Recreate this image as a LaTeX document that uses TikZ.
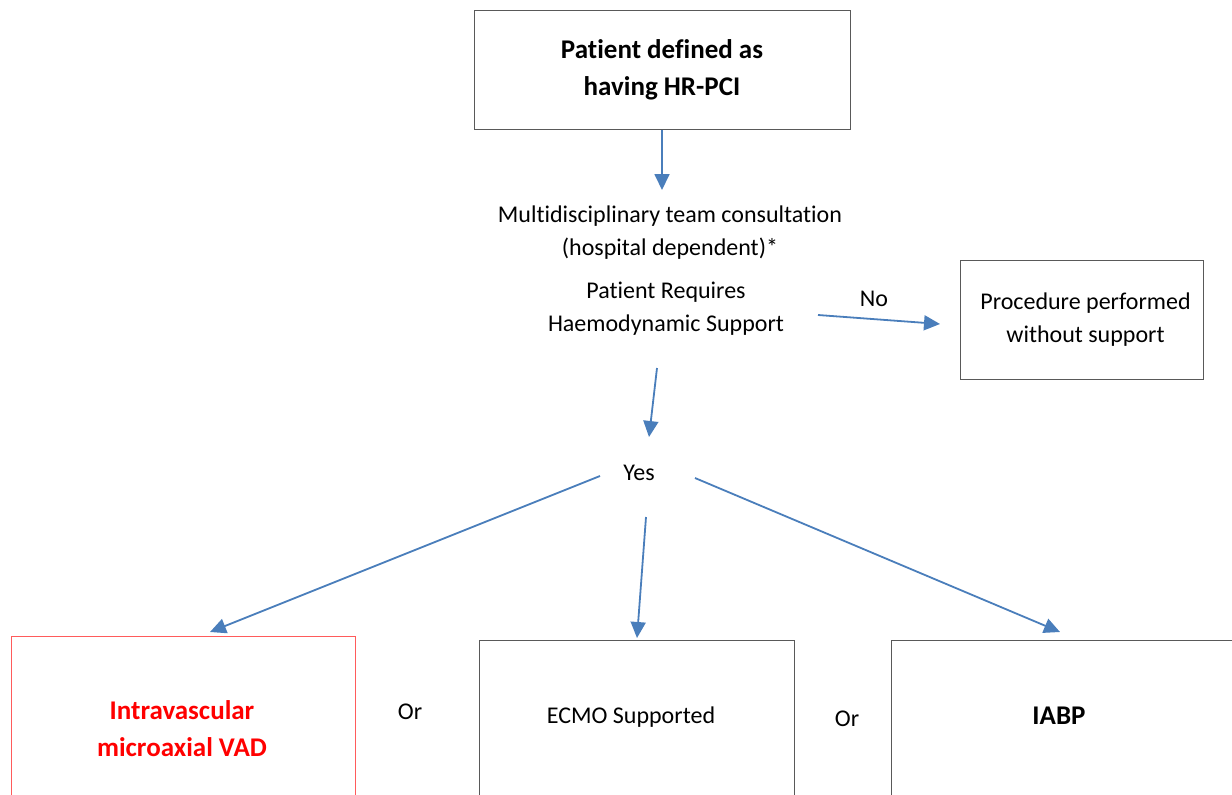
\documentclass[tikz,border=0pt]{standalone}
\usepackage{fontspec}
\setmainfont[Ligatures=NoCommon]{Carlito}
\usetikzlibrary{arrows.meta}
\definecolor{arrowblue}{HTML}{4A7EBB}
\definecolor{boxgray}{HTML}{595959}
\definecolor{vadred}{HTML}{FF5B5B}

\begin{document}
\begin{tikzpicture}[x=1pt,y=-1pt,
  box/.style={draw=boxgray, line width=1pt, inner sep=0pt},
  txt/.style={align=center, font=\fontsize{24}{33}\selectfont},
  bold/.style={align=center, font=\fontsize{27}{37}\selectfont\bfseries},
  link/.style={draw=arrowblue, line width=1.8pt, -{Triangle[length=16pt,width=15pt]}}]

\clip (0,0) rectangle (1232,795);

% Top

\node [box, bold, minimum width=376, minimum height=119] (hrpci) at (662,69.5) {Patient defined as\\having HR-PCI};

\node [txt] (mdt) at (670,233) {Multidisciplinary team consultation\\(hospital dependent)*};
\node [txt] (req) at (666,309) {Patient Requires\\Haemodynamic Support};

\node [txt] (no) at (874,299) {No};
\node [box, txt, minimum width=243, minimum height=119] (nosupp) at (1081.5,319.5) {\hspace{8pt}Procedure performed\\\hspace{8pt}without support};

\node [txt] (yes) at (639,473) {Yes};

%Arrows
\coordinate (mdtTip) at (662,190);
\coordinate (noStart) at (818,315);
\coordinate (noTip) at (940,324);
\coordinate (reqStart) at (657,368);
\coordinate (yesTip) at (649,437);

\draw [link] (hrpci.south) -- (mdtTip);
\draw [link] (noStart) -- (noTip);
\draw [link] (reqStart) -- (yesTip);

% Devices

\node [box, draw=vadred, line width=0.8pt, minimum width=344, minimum height=264, anchor=north] (vad) at (183,636) {};
\node [bold, text=red] (vadtext) at (182,729) {Intravascular\\microaxial VAD};

\node [box, minimum width=315, minimum height=264, anchor=north] (ecmo) at (636.5,640) {};
\node [txt] (ecmotext) at (631,717) {ECMO Supported};

\node [box, minimum width=409, minimum height=264, anchor=north] (iabp) at (1095.5,640) {};
\node [bold] (iabptext) at (1059,716) {IABP};

\node [txt] (or1) at (410,712) {Or};
\node [txt] (or2) at (847,719) {Or};

\coordinate (yesL) at (600,476);
\coordinate (yesM) at (646,517);
\coordinate (yesR) at (695,478);
\coordinate (vadTip) at (210,632);
\coordinate (ecmoTip) at (637,638);
\coordinate (iabpTip) at (1060,632);

\draw [link] (yesL) -- (vadTip);
\draw [link] (yesM) -- (ecmoTip);
\draw [link] (yesR) -- (iabpTip);
\end{tikzpicture}
\end{document}
